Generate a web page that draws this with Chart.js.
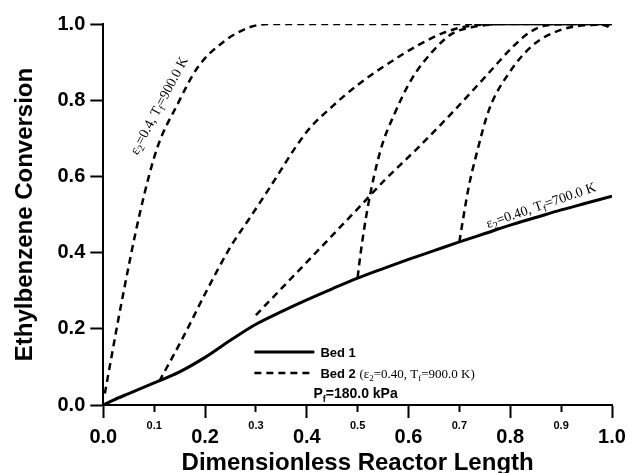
<!DOCTYPE html>
<html><head><meta charset="utf-8">
<script src="https://cdn.jsdelivr.net/npm/chart.js@4"></script>
<style>html,body{margin:0;padding:0;background:#fff;}canvas{display:block;}</style>
</head><body>
<canvas id="c" width="628" height="473"></canvas>
<script>
// ---- data ----
const xTickLabels = ['0.0','0.1','0.2','0.3','0.4','0.5','0.6','0.7','0.8','0.9','1.0'];
const yTickLabels = ['0.0','0.2','0.4','0.6','0.8','1.0'];

const bed1X = [0,0.02,0.05,0.1,0.15,0.2,0.25,0.3,0.35,0.4,0.45,0.5,0.55,0.6,0.65,0.7,0.75,0.8,0.85,0.9,0.95,1.0];
const bed1Y = [0,0.013,0.03,0.058,0.087,0.125,0.17,0.212,0.245,0.276,0.305,0.333,0.358,0.382,0.405,0.428,0.45,0.472,0.492,0.512,0.53,0.548];

const bed2From00X = [0.003,0.036,0.073,0.106,0.145,0.185,0.236,0.289,0.33,1.0];
const bed2From00Y = [0.03,0.27,0.51,0.675,0.787,0.885,0.953,0.992,1.0,1.0];

const bed2From01X = [0.11,0.157,0.204,0.25,0.289,0.324,0.4,0.453,0.5,0.553,0.62,0.673,0.72,0.8,1.0];
const bed2From01Y = [0.062,0.178,0.302,0.415,0.493,0.564,0.717,0.787,0.84,0.89,0.945,0.979,0.995,1.0,1.0];

const bed2From03X = [0.3,0.4,0.5,0.553,0.62,0.685,0.752,0.805,0.838,0.87,0.92,1.0];
const bed2From03Y = [0.236,0.375,0.515,0.59,0.677,0.766,0.863,0.94,0.978,0.996,1.0,0.997];

const bed2From05X = [0.5,0.505,0.52,0.545,0.573,0.606,0.646,0.685,0.726,0.8,1.0];
const bed2From05Y = [0.335,0.39,0.52,0.669,0.766,0.855,0.926,0.974,0.992,1.0,0.998];

const bed2From07X = [0.7,0.705,0.719,0.732,0.758,0.799,0.845,0.898,0.951,0.98,1.0];
const bed2From07Y = [0.428,0.47,0.577,0.65,0.774,0.874,0.945,0.984,0.997,0.998,0.988];

// ---- helpers ----
const SANS = '"Liberation Sans", Arial, sans-serif';
const SERIF = '"Liberation Serif", "Times New Roman", serif';
const pts = (xs, ys) => xs.map((v, i) => ({x: v, y: ys[i]}));

const solidStyle = {borderColor:'#000', borderWidth:3, borderDash:[]};
const dashStyle = {borderColor:'#000', borderWidth:2.5, borderDash:[7,5]};

function line(label, xs, ys, style) {
  return Object.assign({
    label, data: pts(xs, ys), showLine: true, fill: false,
    pointRadius: 0, pointHoverRadius: 0, cubicInterpolationMode: 'monotone'
  }, style);
}

function drawRich(ctx, parts, x0, y0, angle) {
  ctx.save();
  ctx.translate(x0, y0);
  ctx.rotate(angle);
  ctx.textAlign = 'left';
  ctx.textBaseline = 'alphabetic';
  ctx.fillStyle = '#000';
  let cx = 0;
  for (const p of parts) {
    ctx.font = p.font;
    ctx.fillText(p.t, cx, p.dy || 0);
    cx += ctx.measureText(p.t).width;
  }
  ctx.restore();
  return cx;
}

const serif = (s) => `${s}px ${SERIF}`;
const sansB = (s) => `bold ${s}px ${SANS}`;

const annotPlugin = {
  id: 'annot',
  afterDatasetsDraw(chart) {
    const {ctx, scales: {x, y}} = chart;
    // rotated curve labels
    drawRich(ctx, [
      {t:'\u03b5', font: serif(14)}, {t:'2', font: serif(10), dy: 3},
      {t:'=0.4, T', font: serif(14)}, {t:'f', font: serif(10), dy: 3},
      {t:'=900.0 K', font: serif(14)}
    ], x.getPixelForValue(0.067), y.getPixelForValue(0.655), -62 * Math.PI / 180);

    drawRich(ctx, [
      {t:'\u03b5', font: serif(14)}, {t:'2', font: serif(10), dy: 3},
      {t:'=0.40, T', font: serif(14)}, {t:'f', font: serif(10), dy: 3},
      {t:'=700.0 K', font: serif(14)}
    ], x.getPixelForValue(0.756), y.getPixelForValue(0.464), -19 * Math.PI / 180);

    // legend
    const lx = x.getPixelForValue(0.297);
    const ly = y.getPixelForValue(0.139);
    const d0 = chart.data.datasets[0], d1 = chart.data.datasets[1];
    ctx.save();
    ctx.lineCap = 'butt';
    ctx.strokeStyle = d0.borderColor; ctx.lineWidth = d0.borderWidth; ctx.setLineDash([]);
    ctx.beginPath(); ctx.moveTo(lx, ly); ctx.lineTo(lx + 60, ly); ctx.stroke();
    ctx.strokeStyle = d1.borderColor; ctx.lineWidth = d1.borderWidth; ctx.setLineDash(d1.borderDash);
    ctx.beginPath(); ctx.moveTo(lx, ly + 21); ctx.lineTo(lx + 60, ly + 21); ctx.stroke();
    ctx.restore();

    drawRich(ctx, [{t: d0.label, font: sansB(13)}], lx + 66, ly + 5, 0);
    drawRich(ctx, [
      {t: d1.label + ' ', font: sansB(13)},
      {t:'(\u03b5', font: serif(13)}, {t:'2', font: serif(9), dy: 3},
      {t:'=0.40, T', font: serif(13)}, {t:'f', font: serif(9), dy: 3},
      {t:'=900.0 K)', font: serif(13)}
    ], lx + 66, ly + 26, 0);
    drawRich(ctx, [
      {t:'P', font: sansB(14)}, {t:'f', font: sansB(9), dy: 4},
      {t:'=180.0 kPa', font: sansB(14)}
    ], lx + 59, ly + 46, 0);
  }
};

new Chart(document.getElementById('c'), {
  type: 'scatter',
  data: {
    datasets: [
      line('Bed 1', bed1X, bed1Y, solidStyle),
      line('Bed 2', bed2From00X, bed2From00Y, dashStyle),
      line('Bed 2', bed2From01X, bed2From01Y, dashStyle),
      line('Bed 2', bed2From03X, bed2From03Y, dashStyle),
      line('Bed 2', bed2From05X, bed2From05Y, dashStyle),
      line('Bed 2', bed2From07X, bed2From07Y, dashStyle)
    ]
  },
  options: {
    responsive: false,
    devicePixelRatio: 1,
    animation: false,
    layout: {padding: {left: 13, top: 24, right: 16, bottom: 4}},
    plugins: {legend: {display: false}, tooltip: {enabled: false}},
    scales: {
      x: {
        type: 'linear', min: 0, max: 1,
        border: {display: true, color: '#000', width: 2},
        grid: {
          drawOnChartArea: false, drawTicks: true, tickLength: 13,
          tickColor: '#000', tickWidth: 2,
          tickBorderDash: (c) => (c.index % 2 === 0 ? [] : [6, 100])
        },
        ticks: {
          stepSize: 0.1, autoSkip: false, maxRotation: 0, padding: 0, color: '#000',
          callback: (v, i) => xTickLabels[i],
          font: (c) => (c.index % 2 === 0
            ? {family: SANS, size: 20, weight: 'bold', lineHeight: 1.95}
            : {family: SANS, size: 11, weight: 'bold', lineHeight: 1.5})
        },
        title: {
          display: true, text: 'Dimensionless Reactor Length', color: '#000',
          font: {family: SANS, size: 24, weight: 'bold', lineHeight: 0.5},
          padding: {top: 0, bottom: 0}
        }
      },
      y: {
        type: 'linear', min: 0, max: 1,
        border: {display: true, color: '#000', width: 2},
        grid: {drawOnChartArea: false, drawTicks: true, tickLength: 13, tickColor: '#000', tickWidth: 2},
        ticks: {
          stepSize: 0.2, padding: 5, color: '#000',
          callback: (v, i) => yTickLabels[i],
          font: {family: SANS, size: 20, weight: 'bold'}
        },
        title: {
          display: true, text: 'Ethylbenzene Conversion', color: '#000',
          font: {family: SANS, size: 24, weight: 'bold', lineHeight: 1},
          padding: {top: 0, bottom: 15.5}
        }
      }
    }
  },
  plugins: [annotPlugin]
});
</script>
</body></html>
